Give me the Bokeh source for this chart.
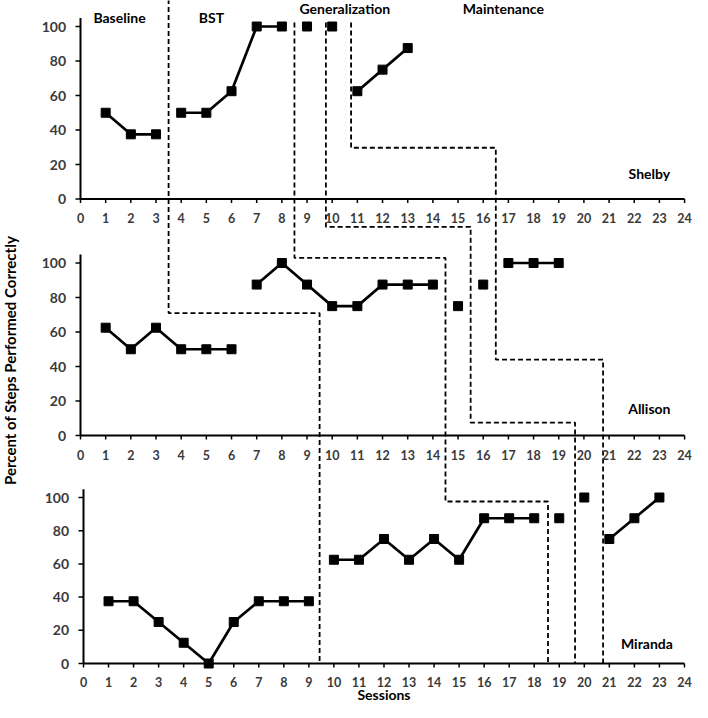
from math import pi
from bokeh.plotting import figure
from bokeh.models import Range1d
from bokeh.embed import file_html
from bokeh.resources import INLINE
from bokeh.core.properties import value

# ---------------- data ----------------
session_ticks = list(range(0, 25))
percent_ticks = [0, 20, 40, 60, 80, 100]

shelby_baseline_x = [1, 2, 3]
shelby_baseline_y = [50, 37.5, 37.5]
shelby_bst_x = [4, 5, 6, 7, 8]
shelby_bst_y = [50, 50, 62.5, 100, 100]
shelby_gen_x = [9, 10]
shelby_gen_y = [100, 100]
shelby_maint_x = [11, 12, 13]
shelby_maint_y = [62.5, 75, 87.5]

allison_baseline_x = [1, 2, 3, 4, 5, 6]
allison_baseline_y = [62.5, 50, 62.5, 50, 50, 50]
allison_bst_x = [7, 8, 9, 10, 11, 12, 13, 14]
allison_bst_y = [87.5, 100, 87.5, 75, 75, 87.5, 87.5, 87.5]
allison_gen_x = [15, 16]
allison_gen_y = [75, 87.5]
allison_maint_x = [17, 18, 19]
allison_maint_y = [100, 100, 100]

miranda_baseline_x = [1, 2, 3, 4, 5, 6, 7, 8, 9]
miranda_baseline_y = [37.5, 37.5, 25, 12.5, 0, 25, 37.5, 37.5, 37.5]
miranda_bst_x = [10, 11, 12, 13, 14, 15, 16, 17, 18]
miranda_bst_y = [62.5, 62.5, 75, 62.5, 75, 62.5, 87.5, 87.5, 87.5]
miranda_gen_x = [19, 20]
miranda_gen_y = [87.5, 100]
miranda_maint_x = [21, 22, 23]
miranda_maint_y = [75, 87.5, 100]

participant_names = ["Shelby", "Allison", "Miranda"]
participant_label_x = [22.6, 22.6, 22.5]
participant_label_y = [14.8, 15.6, 12]
phase_names = ["Baseline", "BST", "Generalization", "Maintenance"]
phase_label_x = [1.55, 5.2, 10.5, 16.8]
phase_label_y = [105.2, 105.2, 110.2, 110.2]

# phase-change staircases: vertices (x-scale, session, y-panel, percent)
stair_baseline_bst = [("tm", 3.5, "top", 116), ("tm", 3.5, "mid", 71),
                      ("tm", 9.5, "mid", 71), ("tm", 9.5, "bot", 0)]
stair_bst_gen = [("tm", 8.5, "top", 102.3), ("tm", 8.5, "mid", 103),
                 ("tm", 14.5, "mid", 103), ("tm", 14.5, "bot", 97.6),
                 ("bot", 18.55, "bot", 97.6), ("bot", 18.55, "bot", 0)]
stair_gen_mid = [("tm", 9.75, "top", 102.3), ("tm", 9.75, "mid", 121),
                 ("tm", 15.5, "mid", 121), ("tm", 15.5, "mid", 7.5),
                 ("bot", 19.63, "mid", 7.5), ("bot", 19.63, "bot", 0)]
stair_gen_maint = [("tm", 10.75, "top", 102.3), ("tm", 10.75, "top", 29.7),
                   ("tm", 16.5, "top", 29.7), ("tm", 16.5, "mid", 44),
                   ("bot", 20.75, "mid", 44), ("bot", 20.75, "bot", 0)]

# ---------------- layout ----------------
W, H = 692, 702
Y0 = {"top": 198.5, "mid": 435.0, "bot": 663.0}   # canvas y of 0 %
PX = {"top": 1.725, "mid": 1.725, "bot": 1.66}     # pixels per percent
X0 = {"tm": 80.0, "bot": 83.0}                     # canvas x of session 0
KX = {"tm": 25.17, "bot": 25.04}                   # pixels per session
LABEL_GAP = {"top": 19.0, "mid": 19.0, "bot": 18.0}

def xrange_for(k):
    return Range1d(-X0[k] / KX[k], (W - X0[k]) / KX[k])

def yrange_for(k):
    return Range1d(-(H - Y0[k]) / PX[k], Y0[k] / PX[k])

def to_main_x(k, s):
    return (X0[k] + s * KX[k] - X0["tm"]) / KX["tm"]

def to_main_y(k, v):
    return (Y0["top"] - (Y0[k] - v * PX[k])) / PX["top"]

p = figure(width=W, height=H, x_range=xrange_for("tm"), y_range=yrange_for("top"),
           x_axis_type=None, y_axis_type=None, output_backend="svg",
           toolbar_location=None, min_border=0, outline_line_color=None,
           background_fill_color="white", border_fill_color="white")
p.extra_y_ranges = {"mid": yrange_for("mid"), "bot": yrange_for("bot")}
p.extra_x_ranges = {"botx": xrange_for("bot")}

FONT = value("Lato")
TICK_COLOR = "#3a3a3a"

panels = [
    ("default", "default", "tm", "top",
     [(shelby_baseline_x, shelby_baseline_y, True), (shelby_bst_x, shelby_bst_y, True),
      (shelby_gen_x, shelby_gen_y, False), (shelby_maint_x, shelby_maint_y, True)]),
    ("default", "mid", "tm", "mid",
     [(allison_baseline_x, allison_baseline_y, True), (allison_bst_x, allison_bst_y, True),
      (allison_gen_x, allison_gen_y, False), (allison_maint_x, allison_maint_y, True)]),
    ("botx", "bot", "bot", "bot",
     [(miranda_baseline_x, miranda_baseline_y, True), (miranda_bst_x, miranda_bst_y, True),
      (miranda_gen_x, miranda_gen_y, False), (miranda_maint_x, miranda_maint_y, True)]),
]

# phase-change dashed lines
for stair in [stair_baseline_bst, stair_bst_gen, stair_gen_mid, stair_gen_maint]:
    xs = [to_main_x(a, s) for a, s, b, v in stair]
    ys = [to_main_y(b, v) for a, s, b, v in stair]
    p.line(xs, ys, line_color="black", line_width=1.8, line_dash="5 3")

for i, (xrn, yrn, xk, yk, series) in enumerate(panels):
    kw = dict(x_range_name=xrn, y_range_name=yrn)
    tick_dx = 5 / KX[xk]
    tick_dy = 4 / PX[yk]
    # axis lines
    p.segment(x0=[0, 0], y0=[0, 0], x1=[0, session_ticks[-1]], y1=[105, 0],
              line_color="black", line_width=2, **kw)
    # y ticks
    p.segment(x0=[0] * len(percent_ticks), y0=percent_ticks,
              x1=[-tick_dx] * len(percent_ticks), y1=percent_ticks,
              line_color="black", line_width=1.5, **kw)
    # x ticks
    p.segment(x0=session_ticks, y0=[0] * len(session_ticks),
              x1=session_ticks, y1=[-tick_dy] * len(session_ticks),
              line_color="black", line_width=1.5, **kw)
    # tick labels
    p.text(x=[-14.5 / KX[xk]] * len(percent_ticks), y=percent_ticks,
           text=[str(t) for t in percent_ticks], text_align="right",
           text_baseline="middle", text_font=FONT, text_font_style="bold",
           text_font_size="14px", text_color=TICK_COLOR, **kw)
    p.text(x=session_ticks, y=[-LABEL_GAP[yk] / PX[yk]] * len(session_ticks),
           text=[str(t) for t in session_ticks], text_align="center",
           text_baseline="middle", text_font=FONT, text_font_style="bold",
           text_font_size="12.5px", text_color=TICK_COLOR, **kw)
    # data
    for sx, sy, connected in series:
        if connected:
            p.line(sx, sy, line_color="black", line_width=2.7, **kw)
        p.scatter(sx, sy, marker="square", size=9, fill_color="black",
                  line_color="black", **kw)
    # participant name
    p.text(x=[participant_label_x[i]], y=[participant_label_y[i]],
           text=[participant_names[i]], text_align="center",
           text_baseline="middle", text_font=FONT, text_font_style="bold",
           text_font_size="14px", text_color="black", **kw)

# phase labels (top panel)
p.text(x=phase_label_x, y=phase_label_y, text=phase_names, text_align="center",
       text_baseline="middle", text_font=FONT, text_font_style="bold",
       text_font_size="14px", text_color="black")

# axis titles
p.text(x=[-2.82], y=[to_main_y("mid", 43.5)],
       text=["Percent of Steps Performed Correctly"], angle=pi / 2,
       text_align="center", text_baseline="middle", text_font=FONT,
       text_font_style="bold", text_font_size="15px", text_color="black")
p.text(x=[12], y=[-18.7], text=["Sessions"], text_align="center",
       text_baseline="middle", text_font=FONT, text_font_style="bold",
       text_font_size="14px", text_color="black",
       x_range_name="botx", y_range_name="bot")

open("out.html", "w").write(file_html(p, INLINE))
